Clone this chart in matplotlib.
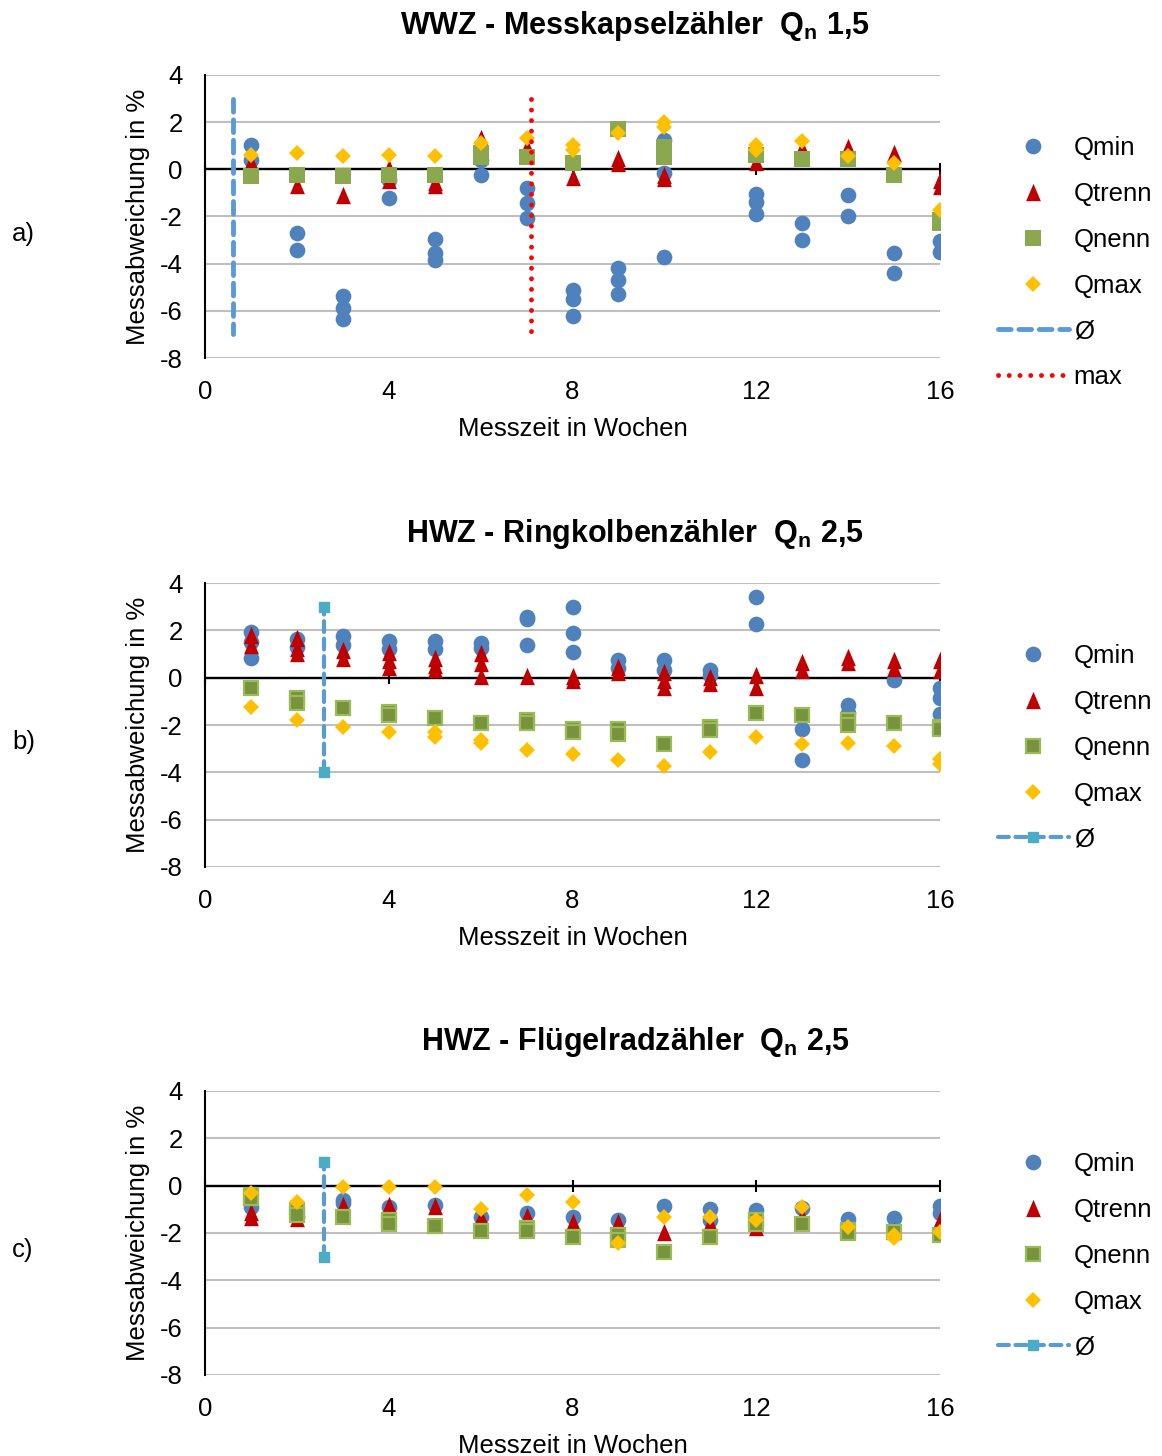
import matplotlib.pyplot as plt
from matplotlib.lines import Line2D

plt.rcParams['font.family'] = ['Liberation Sans', 'DejaVu Sans']
plt.rcParams['mathtext.fontset'] = 'custom'
plt.rcParams['mathtext.rm'] = 'Liberation Sans'
plt.rcParams['mathtext.bf'] = 'Liberation Sans:bold'
plt.rcParams['axes.unicode_minus'] = False

# axis ticks
x_ticks = [0, 4, 8, 12, 16]
y_ticks = [4, 2, 0, -2, -4, -6, -8]

# a) WWZ - Messkapselzaehler, values per week (several meters per week)
a_qmin = {1: [1.03, 0.39], 2: [-2.7, -3.44], 3: [-5.35, -5.87, -6.34], 4: [-0.45, -1.23],
          5: [-2.96, -3.55, -3.83], 6: [0.39, -0.24], 7: [-0.8, -1.41, -2.08],
          8: [-5.1, -5.49, -6.23], 9: [-4.18, -4.68, -5.27], 10: [1.24, -0.17, -3.73],
          12: [-1.06, -1.37, -1.89], 13: [-2.28, -2.99], 14: [-1.08, -2.0],
          15: [-3.55, -4.39], 16: [-3.06, -3.52]}
a_qtrenn = {1: [0.32], 2: [-0.66], 3: [-1.08], 4: [0.04, -0.45], 5: [-0.52, -0.66],
            6: [1.31], 7: [0.96], 8: [-0.31], 9: [0.46, 0.25], 10: [-0.24, -0.38],
            12: [0.32], 13: [0.89], 14: [0.93], 15: [0.68], 16: [-0.45, -0.7]}
a_qnenn = {1: [-0.28], 2: [-0.24], 3: [-0.28], 4: [-0.24], 5: [-0.24], 6: [0.54, 0.7],
           7: [0.51], 8: [0.25], 9: [1.73], 10: [0.96, 0.54], 12: [0.61], 13: [0.44],
           14: [0.44], 15: [-0.24], 16: [-2.28, -2.14]}
a_qmax = {1: [0.61], 2: [0.68], 3: [0.56], 4: [0.61], 5: [0.56], 6: [1.1], 7: [1.34],
          8: [1.03, 0.82], 9: [1.52], 10: [2.01, 1.8], 12: [1.03, 0.82], 13: [1.2],
          14: [0.58], 15: [0.25], 16: [-1.72]}
a_avg_x = [0.6, 0.6]
a_avg_y = [3, -7]
a_max_x = [7.1, 7.1]
a_max_y = [3, -7]

# b) HWZ - Ringkolbenzaehler
b_qmin = {1: [1.95, 1.5, 0.82], 2: [1.62, 1.3], 3: [1.74, 1.38], 4: [1.53, 1.2],
          5: [1.53, 1.2], 6: [1.45, 1.24], 7: [2.58, 2.5, 1.38], 8: [3.0, 1.88, 1.1],
          9: [0.75, 0.4], 10: [0.75, 0.32], 11: [0.32, 0.1], 12: [3.4, 2.26],
          13: [-2.15, -3.49], 14: [-1.16, -1.51], 15: [-0.1], 16: [-0.45, -0.88, -1.54]}
b_qtrenn = {1: [1.8, 1.38], 2: [1.67, 1.24, 1.03], 3: [1.17, 0.82], 4: [1.1, 0.75, 0.47],
            5: [0.82, 0.54, 0.35], 6: [1.03, 0.61, 0.07], 7: [0.07], 8: [0.07, -0.1],
            9: [0.47, 0.25], 10: [0.25, -0.1, -0.38], 11: [0.04, -0.24], 12: [0.11, -0.38],
            13: [0.68, 0.32], 14: [0.89, 0.68], 15: [0.75, 0.4], 16: [0.75, 0.32]}
b_qnenn = {1: [-0.45], 2: [-0.88, -1.09], 3: [-1.3], 4: [-1.44, -1.58], 5: [-1.69],
           6: [-1.9], 7: [-1.79, -1.9], 8: [-2.15, -2.29], 9: [-2.19, -2.36], 10: [-2.81],
           11: [-2.08, -2.22], 12: [-1.51], 13: [-1.58], 14: [-1.79, -2.0], 15: [-1.93],
           16: [-2.08, -2.19]}
b_qmax = {1: [-1.23], 2: [-1.77], 3: [-2.08], 4: [-2.29], 5: [-2.29, -2.5], 6: [-2.64, -2.78],
          7: [-3.06], 8: [-3.23], 9: [-3.49], 10: [-3.74], 11: [-3.14], 12: [-2.5],
          13: [-2.81], 14: [-2.75], 15: [-2.9], 16: [-3.42, -3.63]}
b_avg_x = [2.6, 2.6]
b_avg_y = [-4, 3]

# c) HWZ - Fluegelradzaehler
c_qmin = {1: [-0.89], 2: [-1.31], 3: [-0.61, -0.75], 4: [-0.89], 5: [-0.82], 6: [-1.31],
          7: [-1.17], 8: [-1.31], 9: [-1.45], 10: [-0.86], 11: [-1.0, -1.45], 12: [-1.03],
          13: [-0.95], 14: [-1.42], 15: [-1.38], 16: [-0.86, -1.17]}
c_qtrenn = {1: [-1.1, -1.31], 2: [-1.38], 3: [-0.82], 4: [-0.82], 5: [-0.86], 6: [-1.31],
            7: [-1.28], 8: [-1.52], 9: [-1.52], 10: [-1.94], 11: [-1.59], 12: [-1.73],
            13: [-1.3], 14: [-1.8], 15: [-1.9], 16: [-1.45]}
c_qnenn = {1: [-0.4, -0.54], 2: [-1.03, -1.24], 3: [-1.34], 4: [-1.45, -1.6], 5: [-1.69],
           6: [-1.9], 7: [-1.8, -1.9], 8: [-2.16], 9: [-2.09, -2.3], 10: [-2.8], 11: [-2.16],
           12: [-1.45, -1.6], 13: [-1.6], 14: [-1.87, -2.0], 15: [-1.94], 16: [-2.09]}
c_qmax = {1: [-0.32], 2: [-0.68], 3: [-0.04], 4: [-0.04], 5: [-0.04], 6: [-1.0], 7: [-0.4],
          8: [-0.68], 9: [-2.41], 10: [-1.31], 11: [-1.31], 12: [-1.45], 13: [-0.89],
          14: [-1.73], 15: [-2.09, -2.22], 16: [-1.94]}
c_avg_x = [2.6, 2.6]
c_avg_y = [-3, 1]

names = ['Qmin', 'Qtrenn', 'Qnenn', 'Qmax']

W, H = 1162, 1456
fig = plt.figure(figsize=(W / 100, H / 100), dpi=100)

tri = [(0, 1), (-0.85, -1), (0.85, -1)]
blue, red, yellow = '#4F81BD', '#C00000', '#FFC000'
FS = 18.5


def flat(d):
    xs = [w for w, vals in d.items() for v in vals]
    ys = [v for w, vals in d.items() for v in vals]
    return xs, ys


def styles(solid_green):
    if solid_green:
        green = dict(marker='s', ms=11.3, mfc='#8BA84E', mec='#8BA84E', mew=0)
    else:
        green = dict(marker='s', ms=10.5, mfc='#77933C', mec='#9BBB59', mew=1.6)
    return [dict(marker='o', ms=11.3, mfc=blue, mec=blue, mew=0),
            dict(marker=tri, ms=12.5, mfc=red, mec=red, mew=0),
            green,
            dict(marker='D', ms=8, mfc=yellow, mec=yellow, mew=0)]


def panel(top, bottom, series, title, letter, avg, mx=None, solid_green=False):
    ax = fig.add_axes([205 / W, 1 - bottom / H, 735 / W, (bottom - top) / H])
    ax.set_xlim(0, 16)
    ax.set_ylim(-8, 4)
    ax.set_xticks(x_ticks)
    ax.set_yticks(y_ticks)
    ax.tick_params(axis='both', length=0, labelsize=FS, pad=16)
    for s in ['top', 'right', 'bottom']:
        ax.spines[s].set_visible(False)
    ax.spines['left'].set_linewidth(1.5)
    ax.grid(axis='y', color='#BFBFBF', lw=1.5)
    ax.set_axisbelow(True)
    ax.axhline(0, color='black', lw=1.7, zorder=1.5)
    ax.plot(x_ticks, [0] * len(x_ticks), ls='none', marker='|', ms=8.6, mew=1.5,
            color='black', zorder=1.5, clip_on=False)

    st = styles(solid_green)
    handles = []
    for d, kw in zip(series, st):
        xs, ys = flat(d)
        ax.plot(xs, ys, ls='none', zorder=3, **kw)
        handles.append(Line2D([], [], ls='none', **kw))

    labels = list(names)
    if mx is None:
        ax.plot(avg[0], avg[1], color='#5B9BD5', lw=3, dashes=(2.6, 1.6),
                dash_capstyle='round', marker='s', ms=6.5, mfc='#4BACC6', mec='#4BACC6', zorder=4)
        handles.append(Line2D([], [], color='#5B9BD5', lw=3, dashes=(2.6, 1.6),
                              dash_capstyle='round', marker='s', ms=6.5,
                              mfc='#4BACC6', mec='#4BACC6'))
        labels.append('Ø')
    else:
        ax.plot(avg[0], avg[1], color='#5B9BD5', lw=3.5, dashes=(2.6, 1.6),
                dash_capstyle='round', zorder=4)
        ax.plot(mx[0], mx[1], color='#FF0000', lw=3.5, dashes=(0.01, 2.16),
                dash_capstyle='round', zorder=4)
        handles.append(Line2D([], [], color='#5B9BD5', lw=3.5, dashes=(2.6, 1.6),
                              dash_capstyle='round'))
        handles.append(Line2D([], [], color='#FF0000', lw=3.5, dashes=(0.01, 2.2),
                              dash_capstyle='round'))
        labels += ['Ø', 'max']

    ax.legend(handles, labels, loc='upper left', bbox_to_anchor=(998 / W, 1 - (top + 61) / H),
              bbox_transform=fig.transFigure, frameon=False, fontsize=FS, handlelength=2.75,
              handletextpad=0.2, labelspacing=0.85, borderpad=0, borderaxespad=0)

    ax.set_ylabel('Messabweichung in %', fontsize=FS)
    ax.yaxis.set_label_coords(-55 / 735, 0.5)
    ax.set_xlabel('Messzeit in Wochen', fontsize=FS)
    ax.xaxis.set_label_coords(0.5, -59 / (bottom - top))

    fig.text(635 / W, 1 - (top - 49) / H, title, ha='center', va='center',
             fontsize=22, fontweight='bold')
    fig.text(12 / W, 1 - (top + 159) / H, letter, ha='left', va='center', fontsize=FS)
    return ax


panel(75, 358, [a_qmin, a_qtrenn, a_qnenn, a_qmax],
      r'WWZ - Messkapselzähler  Q$_\mathbf{n}$ 1,5', 'a)',
      (a_avg_x, a_avg_y), (a_max_x, a_max_y), solid_green=True)
panel(583, 867, [b_qmin, b_qtrenn, b_qnenn, b_qmax],
      r'HWZ - Ringkolbenzähler  Q$_\mathbf{n}$ 2,5', 'b)', (b_avg_x, b_avg_y))
panel(1091, 1375, [c_qmin, c_qtrenn, c_qnenn, c_qmax],
      r'HWZ - Flügelradzähler  Q$_\mathbf{n}$ 2,5', 'c)', (c_avg_x, c_avg_y))

fig.savefig('out.png', dpi=100)
